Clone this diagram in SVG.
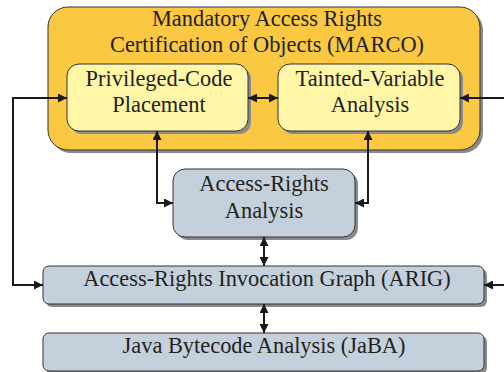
<svg xmlns="http://www.w3.org/2000/svg" width="504" height="372" viewBox="0 0 504 372">
<style>
.t{font-family:"Liberation Serif","Times New Roman",serif;font-size:22.4px;fill:#231f20;text-anchor:middle}
.sh{fill:#8a8a8a}
.box{stroke:#333;stroke-width:1}
.marco{fill:#fac842}
.yel{fill:#fff6a8}
.blu{fill:#c4d1dc}
.c{fill:none;stroke:#1a1a1a;stroke-width:2}
</style>
<defs>
<marker id="ah" viewBox="0 0 9 9" refX="9" refY="4.5" markerWidth="9" markerHeight="9" markerUnits="userSpaceOnUse" orient="auto-start-reverse">
<path d="M0,0 L9,4.5 L0,9 z" fill="#1a1a1a"/>
</marker>
</defs>
<rect width="504" height="372" fill="#fff"/>
<g id="marco">
<rect class="sh" x="51" y="10" width="432" height="143" rx="20"/>
<rect class="box marco" x="48" y="7" width="432" height="143" rx="20"/>
<text class="t" x="267" y="26">Mandatory Access Rights</text>
<text class="t" x="267" y="52">Certification of Objects (MARCO)</text>
</g>
<g id="pcp">
<rect class="sh" x="70" y="67" width="181" height="67" rx="12"/>
<rect class="box yel" x="67" y="64" width="181" height="67" rx="12"/>
<text class="t" x="159" y="86">Privileged-Code</text>
<text class="t" x="159" y="112">Placement</text>
</g>
<g id="tva">
<rect class="sh" x="281" y="67" width="182" height="67" rx="12"/>
<rect class="box yel" x="278" y="64" width="182" height="67" rx="12"/>
<text class="t" x="370" y="86">Tainted-Variable</text>
<text class="t" x="370" y="112">Analysis</text>
</g>
<g id="ara">
<rect class="sh" x="176" y="172" width="182" height="68" rx="12"/>
<rect class="box blu" x="173" y="169" width="182" height="68" rx="12"/>
<text class="t" x="264" y="191">Access-Rights</text>
<text class="t" x="264" y="218">Analysis</text>
</g>
<g id="arig">
<rect class="sh" x="46" y="269" width="441" height="38" rx="6"/>
<rect class="box blu" x="43" y="266" width="441" height="38" rx="6"/>
<text class="t" x="267" y="286">Access-Rights Invocation Graph (ARIG)</text>
</g>
<g id="jaba">
<rect class="sh" x="46" y="336" width="441" height="38" rx="6"/>
<rect class="box blu" x="43" y="333" width="441" height="38" rx="6"/>
<text class="t" x="264" y="353">Java Bytecode Analysis (JaBA)</text>
</g>
<g id="connectors">
<path class="c" d="M67,98 H13 V285 H43" marker-start="url(#ah)" marker-end="url(#ah)"/>
<path class="c" d="M504,98 H460" marker-end="url(#ah)"/>
<path class="c" d="M504,285 H484" marker-end="url(#ah)"/>
<path class="c" d="M248,98 H278" marker-start="url(#ah)" marker-end="url(#ah)"/>
<path class="c" d="M157,131 V203 H173" marker-start="url(#ah)" marker-end="url(#ah)"/>
<path class="c" d="M368,131 V203 H355" marker-start="url(#ah)" marker-end="url(#ah)"/>
<path class="c" d="M264,237 V266" marker-start="url(#ah)" marker-end="url(#ah)"/>
<path class="c" d="M264,304 V333" marker-start="url(#ah)" marker-end="url(#ah)"/>
</g>
</svg>
